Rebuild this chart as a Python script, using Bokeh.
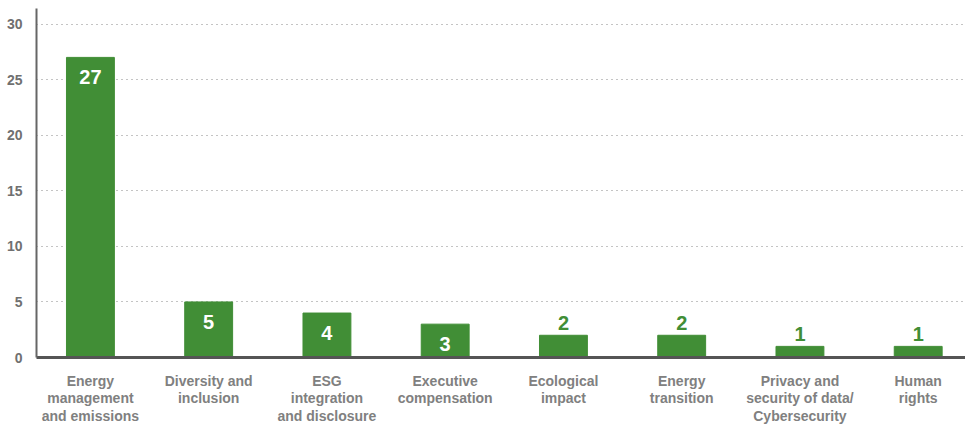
from bokeh.plotting import figure
from bokeh.models import Range1d, FixedTicker, ColumnDataSource
from bokeh.core.properties import value
from bokeh.embed import file_html
from bokeh.resources import INLINE

categories = ["Energy\nmanagement\nand emissions", "Diversity and\ninclusion",
              "ESG\nintegration\nand disclosure", "Executive\ncompensation",
              "Ecological\nimpact", "Energy\ntransition",
              "Privacy and\nsecurity of data/\nCybersecurity", "Human\nrights"]
counts = [27, 5, 4, 3, 2, 2, 1, 1]
y_ticks = [0, 5, 10, 15, 20, 25, 30]

GREEN = "#418E36"
FONT = "Liberation Sans"

xs = list(range(len(categories)))
inside = [c >= 3 for c in counts]
src_in = ColumnDataSource(dict(x=[x for x, i in zip(xs, inside) if i],
                               y=[c for c, i in zip(counts, inside) if i],
                               t=[str(c) for c, i in zip(counts, inside) if i]))
src_out = ColumnDataSource(dict(x=[x for x, i in zip(xs, inside) if not i],
                                y=[c for c, i in zip(counts, inside) if not i],
                                t=[str(c) for c, i in zip(counts, inside) if not i]))

p = figure(width=965, height=427, output_backend="svg", toolbar_location=None,
           x_range=Range1d(-0.456, 7.40), y_range=Range1d(0, 31.4),
           min_border_left=36, min_border_right=0, min_border_top=8, min_border_bottom=70)
p.outline_line_color = None
p.background_fill_color = "white"

p.vbar(x=xs, top=counts, width=0.405, color=GREEN)

p.text(x="x", y="y", text="t", source=src_in, text_align="center", text_baseline="top",
       y_offset=13, text_color="white", text_font=value(FONT), text_font_style="bold",
       text_font_size="20px")
p.text(x="x", y="y", text="t", source=src_out, text_align="center", text_baseline="bottom",
       y_offset=-5, text_color=GREEN, text_font=value(FONT), text_font_style="bold",
       text_font_size="20px")

p.xgrid.visible = False
p.ygrid.ticker = FixedTicker(ticks=y_ticks[1:])
p.ygrid.grid_line_color = "#888888"
p.ygrid.grid_line_dash = "1 4"
p.ygrid.grid_line_width = 1

p.yaxis.ticker = FixedTicker(ticks=y_ticks)
p.yaxis.axis_line_color = "#666666"
p.yaxis.axis_line_width = 2
p.yaxis.major_tick_line_color = None
p.yaxis.minor_tick_line_color = None
p.yaxis.major_label_standoff = 8
p.yaxis.major_label_text_font = FONT
p.yaxis.major_label_text_font_style = "bold"
p.yaxis.major_label_text_font_size = "14px"
p.yaxis.major_label_text_color = "#707070"

p.xaxis.ticker = FixedTicker(ticks=xs)
p.xaxis.major_label_overrides = {i: c for i, c in zip(xs, categories)}
p.xaxis.axis_line_color = "#555555"
p.xaxis.axis_line_width = 3
p.xaxis.major_tick_line_color = None
p.xaxis.minor_tick_line_color = None
p.xaxis.major_label_standoff = 9
p.xaxis.major_label_text_font = FONT
p.xaxis.major_label_text_font_style = "bold"
p.xaxis.major_label_text_font_size = "14px"
p.xaxis.major_label_text_color = "#808080"
p.xaxis.major_label_text_line_height = 1.1

open("out.html", "w").write(file_html(p, INLINE))
